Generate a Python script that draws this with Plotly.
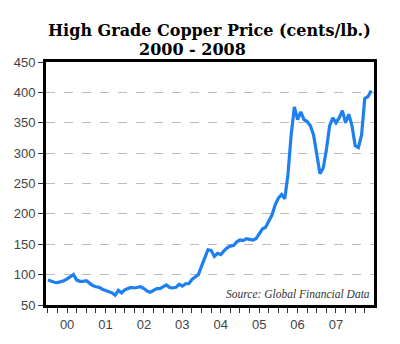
import plotly.graph_objects as go

# Monthly high grade copper price (cents/lb.), Jan 2000 onward
start_year = 2000
prices = [
    91, 89, 87.5, 87, 88, 90, 93, 97, 100, 91, 89, 89,          # 2000
    90, 86, 82, 80, 79, 76, 74, 71, 70, 66, 74, 70,             # 2001
    75, 77, 79, 78, 79, 80, 77, 73, 71, 74, 77, 77,             # 2002
    80, 83, 79, 78, 79, 84, 81, 85, 85, 92, 96, 100,            # 2003
    114, 128, 141, 140, 130, 135, 133, 139, 144, 147, 148, 154, # 2004
    157, 156, 159, 158, 157, 159, 167, 175, 178, 189, 198, 215, # 2005
    226, 232, 225, 265, 330, 376, 355, 368, 355, 352, 345, 330, # 2006
    300, 266, 275, 305, 345, 358, 350, 358, 370, 350, 364, 345, # 2007
    312, 309, 330, 390, 393, 403,                               # 2008
]
year_labels = ["00", "01", "02", "03", "04", "05", "06", "07"]
y_ticks = [50, 100, 150, 200, 250, 300, 350, 400, 450]

x_vals = [start_year + i / 12 for i in range(len(prices))]

fig = go.Figure()
fig.add_trace(go.Scatter(
    x=x_vals, y=prices, mode="lines",
    line=dict(color="#1E80F0", width=3.2),
    hoverinfo="skip", showlegend=False,
))

fig.update_layout(
    width=400, height=344,
    margin=dict(l=46, r=26, t=62, b=36),
    paper_bgcolor="white", plot_bgcolor="white",
    showlegend=False,
    xaxis=dict(
        range=[1999.95, 2008.49],
        tickvals=[start_year + i + 0.5 for i in range(len(year_labels))],
        ticktext=year_labels,
        ticks="outside", ticklen=5, tickwidth=1, tickcolor="#333",
        minor=dict(dtick=0.25, tick0=2000, ticks="outside", ticklen=5,
                   tickwidth=1, tickcolor="#333", showgrid=False),
        showgrid=False, zeroline=False,
        showline=True, mirror=True, linewidth=3, linecolor="black",
        tickfont=dict(family="Liberation Sans, Arial", size=13, color="#444"),
    ),
    yaxis=dict(
        range=[50, 450],
        tickvals=y_ticks,
        ticks="outside", ticklen=5, tickwidth=1, tickcolor="#333",
        showgrid=True, gridcolor="#bbbbbb", griddash="dash", gridwidth=1,
        zeroline=False,
        showline=True, mirror=True, linewidth=3, linecolor="black",
        tickfont=dict(family="Liberation Sans, Arial", size=13, color="#444"),
    ),
    annotations=[
        dict(text="<b>High Grade Copper Price (cents/lb.)</b>",
             x=209, y=30, xref="paper", yref="paper", showarrow=False,
             font=dict(family="DejaVu Serif", size=16, color="black")),
        dict(text="<b>2000 - 2008</b>",
             x=192, y=49, xref="paper", yref="paper", showarrow=False,
             font=dict(family="DejaVu Serif", size=16, color="black")),
        dict(text="<i>Source: Global Financial Data</i>",
             x=1, y=0, xref="paper", yref="paper", xanchor="right",
             yanchor="bottom", xshift=-2, yshift=3, showarrow=False,
             font=dict(family="Liberation Serif, DejaVu Serif, serif",
                       size=11.5, color="#333")),
    ],
)

# convert pixel positions of the title annotations into paper coords
plot_w = 400 - 46 - 26
plot_h = 344 - 62 - 36
for ann in fig.layout.annotations[:2]:
    px, py = ann.x, ann.y
    ann.x = (px - 46) / plot_w
    ann.y = 1 + (62 - py) / plot_h
    ann.xanchor = "center"
    ann.yanchor = "middle"

fig.write_html("out.html")
